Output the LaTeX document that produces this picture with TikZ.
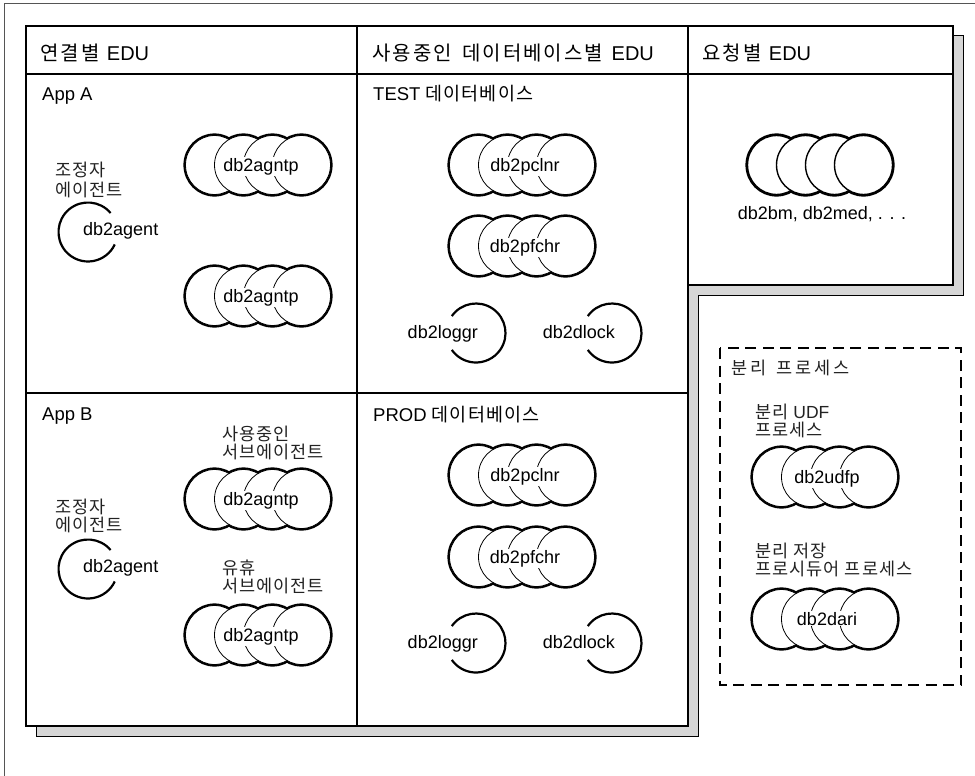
\documentclass[tikz,border=0pt]{standalone}
\usepackage{graphicx}
\usepackage{fontspec}
\setmainfont{Liberation Sans}
\newfontfamily\krfont[LetterSpace=6]{Noto Sans CJK KR}
\newfontfamily\krhdr[LetterSpace=10]{Noto Sans CJK KR}
\newfontfamily\krwide[LetterSpace=16]{Noto Sans CJK KR}
\newcommand{\kr}[1]{{\krfont #1}}
\newcommand{\krh}[1]{{\krhdr #1}}
\definecolor{shadowgray}{HTML}{D6D6D6}
\definecolor{framegray}{HTML}{555555}
\definecolor{krtext}{HTML}{222222}
\tikzset{
  hdr/.style={anchor=base west, inner sep=0pt, font=\fontsize{20}{24}\selectfont},
  lbl/.style={anchor=base west, inner sep=0pt, font=\fontsize{18.5}{22}\selectfont},
  krl/.style={anchor=base west, inner sep=0pt, text=krtext, font=\fontsize{17.5}{20}\selectfont\krfont},
  proc/.style={anchor=base, inner sep=1pt, font=\fontsize{18}{21}\selectfont},
  procw/.style={anchor=base west, inner sep=0pt, font=\fontsize{18}{21}\selectfont},
  proce/.style={anchor=base east, inner sep=0pt, font=\fontsize{18}{21}\selectfont},
  arcline/.style={line width=2.2pt},
}
% four overlapping process ellipses: x, y, inner line width
\newcommand{\ellgroup}[3]{%
  \foreach \dx in {-43.5,-14.5,14.5,43.5}{\draw[line width=4.2pt] (#1,#2) ++(\dx,0) ellipse [x radius=29, y radius=29.5];}
  \foreach \dx in {-43.5,-14.5,14.5,43.5}{\filldraw[fill=white, line width=#3] (#1,#2) ++(\dx,0) ellipse [x radius=29, y radius=29.5];}
}
\begin{document}
\begin{tikzpicture}[x=1pt,y=-1pt]
\useasboundingbox (0,0) rectangle (975,776);
\fill[white] (0,0) rectangle (975,776);
% outer frame
\draw[framegray, line width=1pt] (4,776) -- (4,4) -- (975,4);
% shadow
\filldraw[fill=shadowgray, line width=1pt] (36,36) -- (963,36) -- (963,295) -- (698,295) -- (698,736) -- (36,736) -- cycle;
% main panel
\filldraw[fill=white, line width=2.6pt, line join=miter] (26,26) -- (953,26) -- (953,285) -- (688,285) -- (688,726) -- (26,726) -- cycle;
\draw[line width=2.6pt] (26,74) -- (953,74);
\draw[line width=1.8pt] (357,26) -- (357,726);
\draw[line width=2.2pt] (688,26) -- (688,285);
\draw[line width=1.6pt] (26,393) -- (688,393);
% headers
\node[hdr] (h1) at (40,60) {\krh{연결별}\hspace{2pt} EDU};
\node[hdr] (h2) at (372,60) {\krh{사용중인}\hspace{5pt} \krh{데이터베이스별}\hspace{3pt} EDU};
\node[hdr] (h3) at (702,60) {\krh{요청별}\hspace{2pt} EDU};
% section labels
\node[lbl] (appA) at (42,100) {App A};
\node[lbl] (appB) at (42,420) {App B};
\node[lbl] (testdb) at (373,100) {TEST \kr{데이터베이스}};
\node[lbl] (proddb) at (373,421) {PROD \kr{데이터베이스}};
% App A
\node[krl] (coordA1) at (55,176) {조정자};
\node[krl] (coordA2) at (55,196) {에이전트};
\coordinate (agA) at (88,232);
\draw[arcline] ([shift={(-40:29.5)}]agA) arc[start angle=-40, end angle=-335, radius=29.5];
\node[procw] (agentA) at (83,235) {db2agent};
\ellgroup{258}{165}{0.8pt}
\node[proc, fill=white] (agntpA1) at (261,171) {db2agntp};
\ellgroup{258}{296}{0.8pt}
\node[proc, fill=white] (agntpA2) at (261,302) {db2agntp};
% App B
\node[krl] (actB1) at (222,440) {사용중인};
\node[krl] (actB2) at (222,458) {서브에이전트};
\ellgroup{258}{499}{0.8pt}
\node[proc, fill=white] (agntpB1) at (261,505) {db2agntp};
\node[krl] (coordB1) at (55,513) {조정자};
\node[krl] (coordB2) at (55,531) {에이전트};
\coordinate (agB) at (88,569);
\draw[arcline] ([shift={(-40:29.5)}]agB) arc[start angle=-40, end angle=-335, radius=29.5];
\node[procw] (agentB) at (83,572) {db2agent};
\node[krl] (idleB1) at (222,574) {유휴};
\node[krl] (idleB2) at (222,592) {서브에이전트};
\ellgroup{258}{635}{0.8pt}
\node[proc, fill=white] (agntpB2) at (261,641) {db2agntp};
% TEST database
\ellgroup{522}{165}{0.8pt}
\node[proc, fill=white] (pclnrT) at (525,171) {db2pclnr};
\ellgroup{522}{246}{0.8pt}
\node[proc, fill=white] (pfchrT) at (525,252) {db2pfchr};
\coordinate (lgT) at (476,333);
\draw[arcline] ([shift={(-145:29.5)}]lgT) arc[start angle=-145, end angle=145, radius=29.5];
\node[proce] (loggrT) at (478,338) {db2loggr};
\coordinate (dlT) at (612,333);
\draw[arcline] ([shift={(-145:29.5)}]dlT) arc[start angle=-145, end angle=145, radius=29.5];
\node[proce] (dlockT) at (615,338) {db2dlock};
% PROD database
\ellgroup{522}{475}{0.8pt}
\node[proc, fill=white] (pclnrP) at (525,481) {db2pclnr};
\ellgroup{522}{557}{0.8pt}
\node[proc, fill=white] (pfchrP) at (525,563) {db2pfchr};
\coordinate (lgP) at (476,643);
\draw[arcline] ([shift={(-145:29.5)}]lgP) arc[start angle=-145, end angle=145, radius=29.5];
\node[proce] (loggrP) at (478,648) {db2loggr};
\coordinate (dlP) at (612,643);
\draw[arcline] ([shift={(-145:29.5)}]dlP) arc[start angle=-145, end angle=145, radius=29.5];
\node[proce] (dlockP) at (615,648) {db2dlock};
% per request
\ellgroup{820}{165}{1.4pt}
\node[proc] (bm) at (822,219) {db2bm, db2med, . . .};
% separate processes
\draw[line width=2.4pt, dash pattern=on 11pt off 6.5pt] (720,348) rectangle (961,685);
\node[krl, font=\fontsize{17.5}{20}\selectfont\krwide] (sep) at (731,374) {분리\hspace{4pt} 프로세스};
\node[krl] (udf1) at (755,418) {분리 \fontspec{Liberation Sans}UDF};
\node[krl] (udf2) at (755,436) {프로세스};
\ellgroup{825}{477}{0.8pt}
\node[proc, fill=white] (udfp) at (827,483) {db2udfp};
\node[krl] (sp1) at (755,557) {분리 저장};
\node[krl] (sp2) at (755,575) {프로시듀어 프로세스};
\ellgroup{825}{619}{0.8pt}
\node[proc, fill=white] (dari) at (827,625) {db2dari};
\end{tikzpicture}
\end{document}
